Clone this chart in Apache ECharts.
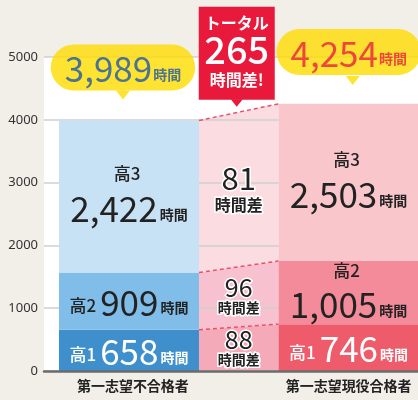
<!DOCTYPE html>
<html>
<head>
<meta charset="utf-8">
<script src="https://cdn.jsdelivr.net/npm/echarts@6/dist/echarts.min.js"></script>
<style>
  html, body { margin: 0; padding: 0; background: #f2eee8; }
  #main { width: 418px; height: 400px; }
</style>
</head>
<body>
<div id="main"></div>
<script>
// データ
const categories = ['第一志望不合格者', '第一志望現役合格者'];
const grades = ['高1', '高2', '高3'];
const failHours = [658, 909, 2422];   // 第一志望不合格者
const passHours = [746, 1005, 2503];  // 第一志望現役合格者
const yTicks = [0, 1000, 2000, 3000, 4000, 5000];

const FONT = '"Noto Sans CJK JP", "Noto Sans", sans-serif';
const BAR_W = 140;
const SLOT = 12.4; // 棒の中心とカテゴリ中心のずれ(px)

const failColors = ['#3f8fcd', '#80bde9', '#c8e2f5'];
const passColors = ['#ee5b6b', '#f48b9b', '#f8c6cb'];
const midColors = ['#f5aab9', '#f7c1d0', '#fbdde1'];

const cum = arr => arr.reduce((acc, v) => { acc.push(acc[acc.length - 1] + v); return acc; }, [0]);
const failCum = cum(failHours);
const passCum = cum(passHours);
const fmt = v => v.toLocaleString('en-US');
const totalDiff = passCum[3] - failCum[3];

function barLabel(grade, hours, white) {
  const c = white ? '#fff' : '#222';
  return {
    show: true,
    position: 'inside',
    fontFamily: FONT,
    formatter: hours < 1000
      ? '{g|' + grade + '}{n|' + fmt(hours) + '}{u|時間}'
      : '{g|' + grade + '}\n{n|' + fmt(hours) + '}{u|時間}',
    rich: {
      g: { fontFamily: FONT, fontSize: 17, fontWeight: 500, color: c, padding: [0, 4, 6, 0], verticalAlign: 'bottom', lineHeight: 22 },
      n: { fontFamily: FONT, fontSize: 35, fontWeight: 400, color: c, verticalAlign: 'bottom', lineHeight: 38 },
      u: { fontFamily: FONT, fontSize: 14, fontWeight: 'bold', color: c, padding: [0, 0, 5, 2], verticalAlign: 'bottom' }
    }
  };
}

const series = [];
grades.forEach((g, i) => {
  series.push({
    name: '不合格' + g, type: 'bar', stack: 'fail', z: 3,
    barWidth: BAR_W, barGap: '-82.3%',
    data: [failHours[i], '-'],
    itemStyle: { color: failColors[i] },
    label: barLabel(g, failHours[i], i === 0)
  });
});
grades.forEach((g, i) => {
  series.push({
    name: '合格' + g, type: 'bar', stack: 'pass', z: 3,
    barWidth: BAR_W, barGap: '-82.3%',
    data: ['-', passHours[i]],
    itemStyle: { color: passColors[i] },
    label: barLabel(g, passHours[i], i === 0)
  });
});

// 中間の差分エリア
const midData = grades.map((g, i) => [0, failCum[i], failCum[i + 1], passCum[i], passCum[i + 1], passHours[i] - failHours[i]]);

function midGeom(api) {
  const a0 = api.coord([0, api.value(1)]);
  const a1 = api.coord([0, api.value(2)]);
  const b0 = api.coord([1, api.value(3)]);
  const b1 = api.coord([1, api.value(4)]);
  const xL = a0[0] - SLOT + BAR_W / 2;
  const xR = b0[0] + SLOT - BAR_W / 2;
  return { a0, a1, b0, b1, xL, xR };
}

series.push({
  type: 'custom', z: 1, clip: false, silent: true,
  data: midData,
  encode: { x: 0, y: [1, 2, 3, 4] },
  renderItem: function (params, api) {
    const m = midGeom(api);
    return {
      type: 'polygon',
      shape: { points: [[m.xL, m.a0[1]], [m.xL, m.a1[1]], [m.xR, m.b1[1]], [m.xR, m.b0[1]]] },
      style: { fill: midColors[params.dataIndex] }
    };
  }
});

series.push({
  type: 'custom', z: 4, clip: false, silent: true,
  data: midData,
  encode: { x: 0, y: [1, 2, 3, 4] },
  renderItem: function (params, api) {
    const m = midGeom(api);
    const cx = (m.xL + m.xR) / 2;
    const cy = (m.a0[1] + m.a1[1] + m.b0[1] + m.b1[1]) / 4;
    const big = params.dataIndex === 2;
    const children = [
      {
        type: 'line',
        shape: { x1: m.xL, y1: m.a1[1], x2: m.xR, y2: m.b1[1] },
        style: { stroke: '#e8526b', lineWidth: 1.5, lineDash: [4, 3] }
      },
      {
        type: 'text',
        x: cx, y: cy,
        style: {
          text: '{n|' + api.value(5) + '}\n{u|時間差}',
          align: 'center', verticalAlign: 'middle',
          rich: {
            n: { fontFamily: FONT, fontSize: big ? 31 : 25, fill: '#222', stroke: '#fff', lineWidth: 3, lineHeight: big ? 30 : 21, align: 'center' },
            u: { fontFamily: FONT, fontSize: big ? 16 : 14, fontWeight: 'bold', fill: '#222', stroke: '#fff', lineWidth: 3, lineHeight: big ? 22 : 19, align: 'center' }
          }
        }
      }
    ];
    if (big) {
      const tipX = cx - 2;
      const tipY = (m.a1[1] + m.b1[1]) / 2 - 5.5;
      const top = tipY - 100;
      children.push(
        { type: 'rect', shape: { x: tipX - 38, y: top, width: 76, height: 93 }, style: { fill: '#e8193b' } },
        { type: 'polygon', shape: { points: [[tipX - 6, tipY - 7.5], [tipX + 6, tipY - 7.5], [tipX, tipY]] }, style: { fill: '#e8193b' } },
        { type: 'text', x: tipX, y: top + 16, style: { text: 'トータル', fill: '#fff', fontFamily: FONT, fontSize: 16, fontWeight: 'bold', align: 'center', verticalAlign: 'middle' } },
        { type: 'text', x: tipX, y: top + 43, style: { text: String(totalDiff), fill: '#fff', fontFamily: FONT, fontSize: 38, fontWeight: 500, align: 'center', verticalAlign: 'middle' } },
        { type: 'text', x: tipX, y: top + 73, style: { text: '時間差!', fill: '#fff', fontFamily: FONT, fontSize: 16, fontWeight: 'bold', align: 'center', verticalAlign: 'middle' } }
      );
    }
    return { type: 'group', children: children };
  }
});

// 合計の吹き出し
function callout(idx, total, textColor, symOffset, lblOffset) {
  return {
    type: 'scatter', z: 5, clip: false, silent: true,
    data: [[idx, total]],
    symbol: 'path://M0,0L14,0L7,9Z',
    symbolSize: [14, 9],
    symbolOffset: symOffset,
    itemStyle: { color: '#ffdc00' },
    label: {
      show: true,
      position: 'inside',
      offset: lblOffset,
      formatter: '{n|' + fmt(total) + '}{u|時間}',
      backgroundColor: '#ffdc00',
      borderRadius: 23,
      padding: [4, 14, 4, 14],
      rich: {
        n: { fontFamily: FONT, fontSize: 35, fontWeight: 400, color: textColor, verticalAlign: 'bottom', lineHeight: 38 },
        u: { fontFamily: FONT, fontSize: 14, fontWeight: 'bold', color: textColor, padding: [0, 0, 5, 1], verticalAlign: 'bottom' }
      }
    }
  };
}
series.push(callout(0, failCum[3], '#1d58a8', [-18.4, -25.5], [0, -27.5]));
series.push(callout(1, passCum[3], '#e8203e', [16.6, -23.4], [-4, -28.5]));

const chart = echarts.init(document.getElementById('main'));
chart.setOption({
  backgroundColor: '#f2eee8',
  animation: false,
  grid: {
    left: 44, top: 57, width: 389.5, bottom: 29,
    outerBoundsMode: 'none', containLabel: false,
    show: true, backgroundColor: '#fff', borderWidth: 0
  },
  xAxis: {
    type: 'category', data: categories, z: 5,
    axisTick: { show: false },
    axisLine: { lineStyle: { color: '#6b6b6b', width: 2.5 } },
    axisLabel: {
      margin: 8,
      formatter: (v, i) => i === 0 ? '{a|' + v + '}' : '{b|' + v + '}',
      rich: {
        a: { fontFamily: FONT, fontSize: 14, fontWeight: 'bold', color: '#222', padding: [0, 17, 0, 0] },
        b: { fontFamily: FONT, fontSize: 14, fontWeight: 'bold', color: '#222', padding: [0, 0, 0, 25] }
      }
    }
  },
  yAxis: {
    type: 'value', z: 2,
    min: yTicks[0], max: yTicks[yTicks.length - 1], interval: yTicks[1] - yTicks[0],
    axisLine: { show: false }, axisTick: { show: false },
    axisLabel: { margin: 6, fontFamily: '"Noto Sans", sans-serif', fontSize: 13, color: '#333', formatter: v => String(v) },
    splitLine: { lineStyle: { color: '#cfcfcf', width: 1.5 } }
  },
  series: series
});
</script>
</body>
</html>
